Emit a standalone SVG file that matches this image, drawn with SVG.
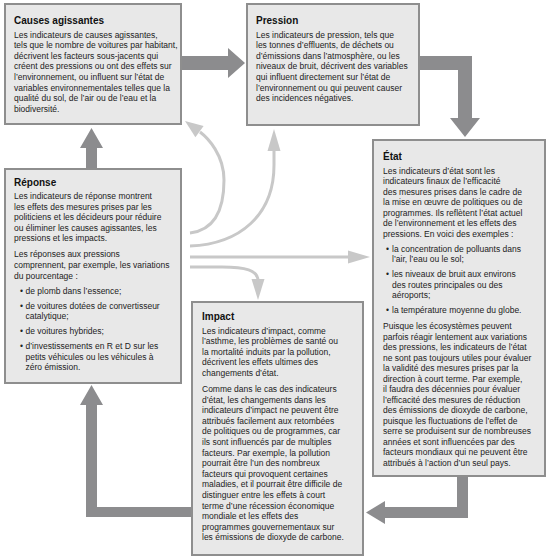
<svg xmlns="http://www.w3.org/2000/svg" width="550" height="558" viewBox="0 0 550 558">
<style>
.box{fill:#e8e8e8;stroke:#8e8e8e;stroke-width:2}
.t{font-family:"Liberation Sans",Arial,sans-serif;font-size:10px;font-weight:bold;fill:#111}
.b{font-family:"Liberation Sans",Arial,sans-serif;font-size:8.5px;fill:#222}
.dark{fill:#8c8c8e}
.light{fill:none;stroke:#c8c8c8;stroke-width:3}
.lh{fill:#c8c8c8}
</style>
<rect width="550" height="558" fill="#ffffff"/>
<g id="connectors">
<path class="dark" d="M181,56 H228 V48 L245,63 L228,78 V70 H181 Z"/>
<path class="dark" d="M419,56 H472 V118 H480 L465,137 L450,118 H458 V70 H419 Z"/>
<path class="dark" d="M457,476 H468 V518 H385 V524 L366,512.5 L385,501 V507 H457 Z"/>
<path class="dark" d="M192,507 V517 H86 V405 H80 L91.5,385 L103,405 H97 V507 Z"/>
<path class="dark" d="M86,169 V148 H80 L91.5,128 L103,148 H97 V169 Z"/>
<path class="light" d="M190,233 C215,230 224,210 224,180 C224,155 208,138 200,132"/>
<polygon class="lh" points="185,121 203.6,126 195.4,137.2"/>
<path class="light" d="M190,246 C240,244 274,215 274,165 V150"/>
<polygon class="lh" points="274,129 280.5,151 267.5,151"/>
<path class="light" d="M190,257 H350"/>
<polygon class="lh" points="370,257 348,250.5 348,263.5"/>
<path class="light" d="M190,267 H222 C245,267 258,270 258,281"/>
<polygon class="lh" points="258,300 251.5,279 264.5,279"/>
</g>
<g id="causes">
<rect class="box" x="5" y="4" width="176" height="120"/>
<text class="t" x="14" y="24">Causes agissantes</text>
<text class="b" y="37.5">
<tspan x="14">Les indicateurs de causes agissantes,</tspan>
<tspan x="14" dy="10.6">tels que le nombre de voitures par habitant,</tspan>
<tspan x="14" dy="10.6">décrivent les facteurs sous-jacents qui</tspan>
<tspan x="14" dy="10.6">créent des pressions ou ont des effets sur</tspan>
<tspan x="14" dy="10.6">l’environnement, ou influent sur l’état de</tspan>
<tspan x="14" dy="10.6">variables environnementales telles que la</tspan>
<tspan x="14" dy="10.6">qualité du sol, de l’air ou de l’eau et la</tspan>
<tspan x="14" dy="10.6">biodiversité.</tspan>
</text>
</g>
<g id="pression">
<rect class="box" x="247" y="4" width="172" height="121"/>
<text class="t" x="256" y="24">Pression</text>
<text class="b" y="37.5">
<tspan x="256">Les indicateurs de pression, tels que</tspan>
<tspan x="256" dy="10.6">les tonnes d’effluents, de déchets ou</tspan>
<tspan x="256" dy="10.6">d’émissions dans l’atmosphère, ou les</tspan>
<tspan x="256" dy="10.6">niveaux de bruit, décrivent des variables</tspan>
<tspan x="256" dy="10.6">qui influent directement sur l’état de</tspan>
<tspan x="256" dy="10.6">l’environnement ou qui peuvent causer</tspan>
<tspan x="256" dy="10.6">des incidences négatives.</tspan>
</text>
</g>
<g id="reponse">
<rect class="box" x="5" y="169" width="176" height="214"/>
<text class="t" x="14" y="186">Réponse</text>
<text class="b" y="199">
<tspan x="14">Les indicateurs de réponse montrent</tspan>
<tspan x="14" dy="10.6">les effets des mesures prises par les</tspan>
<tspan x="14" dy="10.6">politiciens et les décideurs pour réduire</tspan>
<tspan x="14" dy="10.6">ou éliminer les causes agissantes, les</tspan>
<tspan x="14" dy="10.6">pressions et les impacts.</tspan>
<tspan x="14" dy="16">Les réponses aux pressions</tspan>
<tspan x="14" dy="10.6">comprennent, par exemple, les variations</tspan>
<tspan x="14" dy="10.6">du pourcentage :</tspan>
<tspan x="20" dy="15">•</tspan><tspan x="25.5">de plomb dans l’essence;</tspan>
<tspan x="20" dy="15">•</tspan><tspan x="25.5">de voitures dotées de convertisseur</tspan>
<tspan x="25.5" dy="10.6">catalytique;</tspan>
<tspan x="20" dy="15">•</tspan><tspan x="25.5">de voitures hybrides;</tspan>
<tspan x="20" dy="15">•</tspan><tspan x="25.5">d’investissements en R et D sur les</tspan>
<tspan x="25.5" dy="10.6">petits véhicules ou les véhicules à</tspan>
<tspan x="25.5" dy="10.6">zéro émission.</tspan>
</text>
</g>
<g id="etat">
<rect class="box" x="373" y="140" width="172" height="336"/>
<text class="t" x="383" y="160">État</text>
<text class="b" y="173.5">
<tspan x="383">Les indicateurs d’état sont les</tspan>
<tspan x="383" dy="10.5">indicateurs finaux de l’efficacité</tspan>
<tspan x="383" dy="10.5">des mesures prises dans le cadre de</tspan>
<tspan x="383" dy="10.5">la mise en œuvre de politiques ou de</tspan>
<tspan x="383" dy="10.5">programmes. Ils reflètent l’état actuel</tspan>
<tspan x="383" dy="10.5">de l’environnement et les effets des</tspan>
<tspan x="383" dy="10.5">pressions. En voici des exemples :</tspan>
<tspan x="386" dy="15">•</tspan><tspan x="392">la concentration de polluants dans</tspan>
<tspan x="392" dy="10.5">l’air, l’eau ou le sol;</tspan>
<tspan x="386" dy="15">•</tspan><tspan x="392">les niveaux de bruit aux environs</tspan>
<tspan x="392" dy="10.5">des routes principales ou des</tspan>
<tspan x="392" dy="10.5">aéroports;</tspan>
<tspan x="386" dy="15">•</tspan><tspan x="392">la température moyenne du globe.</tspan>
<tspan x="383" dy="16">Puisque les écosystèmes peuvent</tspan>
<tspan x="383" dy="10.5">parfois réagir lentement aux variations</tspan>
<tspan x="383" dy="10.5">des pressions, les indicateurs de l’état</tspan>
<tspan x="383" dy="10.5">ne sont pas toujours utiles pour évaluer</tspan>
<tspan x="383" dy="10.5">la validité des mesures prises par la</tspan>
<tspan x="383" dy="10.5">direction à court terme. Par exemple,</tspan>
<tspan x="383" dy="10.5">il faudra des décennies pour évaluer</tspan>
<tspan x="383" dy="10.5">l’efficacité des mesures de réduction</tspan>
<tspan x="383" dy="10.5">des émissions de dioxyde de carbone,</tspan>
<tspan x="383" dy="10.5">puisque les fluctuations de l’effet de</tspan>
<tspan x="383" dy="10.5">serre se produisent sur de nombreuses</tspan>
<tspan x="383" dy="10.5">années et sont influencées par des</tspan>
<tspan x="383" dy="10.5">facteurs mondiaux qui ne peuvent être</tspan>
<tspan x="383" dy="10.5">attribués à l’action d’un seul pays.</tspan>
</text>
</g>
<g id="impact">
<rect class="box" x="192" y="302" width="171" height="253"/>
<text class="t" x="202" y="320">Impact</text>
<text class="b" y="333.5">
<tspan x="202">Les indicateurs d’impact, comme</tspan>
<tspan x="202" dy="10.6">l’asthme, les problèmes de santé ou</tspan>
<tspan x="202" dy="10.6">la mortalité induits par la pollution,</tspan>
<tspan x="202" dy="10.6">décrivent les effets ultimes des</tspan>
<tspan x="202" dy="10.6">changements d’état.</tspan>
<tspan x="202" dy="16">Comme dans le cas des indicateurs</tspan>
<tspan x="202" dy="10.6">d’état, les changements dans les</tspan>
<tspan x="202" dy="10.6">indicateurs d’impact ne peuvent être</tspan>
<tspan x="202" dy="10.6">attribués facilement aux retombées</tspan>
<tspan x="202" dy="10.6">de politiques ou de programmes, car</tspan>
<tspan x="202" dy="10.6">ils sont influencés par de multiples</tspan>
<tspan x="202" dy="10.6">facteurs. Par exemple, la pollution</tspan>
<tspan x="202" dy="10.6">pourrait être l’un des nombreux</tspan>
<tspan x="202" dy="10.6">facteurs qui provoquent certaines</tspan>
<tspan x="202" dy="10.6">maladies, et il pourrait être difficile de</tspan>
<tspan x="202" dy="10.6">distinguer entre les effets à court</tspan>
<tspan x="202" dy="10.6">terme d’une récession économique</tspan>
<tspan x="202" dy="10.6">mondiale et les effets des</tspan>
<tspan x="202" dy="10.6">programmes gouvernementaux sur</tspan>
<tspan x="202" dy="10.6">les émissions de dioxyde de carbone.</tspan>
</text>
</g>
</svg>
